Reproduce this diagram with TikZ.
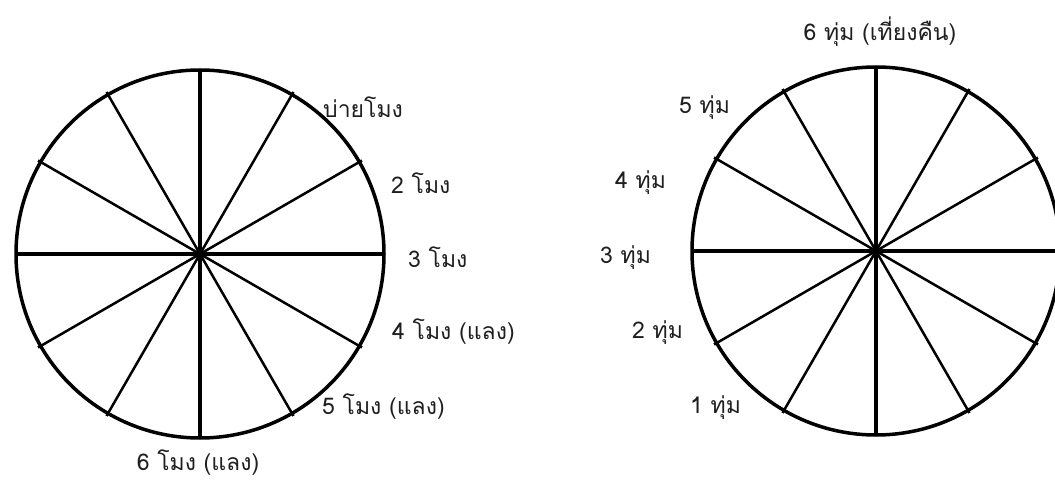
\documentclass[tikz,border=0pt]{standalone}
\usepackage{fontspec}
\newfontfamily\thaifont[Script=Thai]{Loma}
\begin{document}
\begin{tikzpicture}[x=1pt,y=-1pt,
  rim/.style={line width=3.5pt},
  axisline/.style={line width=3.2pt},
  spoke/.style={line width=2.5pt},
  lbl/.style={font=\thaifont\fontsize{23}{27}\selectfont, text=black!88, inner sep=0pt, anchor=west}]
\clip (0,0) rectangle (1055,481);
% left clock
\coordinate (L) at (200,254);
\draw[rim] (L) circle[radius=184];
\foreach \a in {0,90,180,270} \draw[axisline] (L) -- ++(\a:184);
\foreach \a in {30,60,120,150,210,240,300,330} \draw[spoke] (L) -- ++(\a:187);
% right clock
\coordinate (R) at (876,251);
\draw[rim] (R) circle[radius=184];
\foreach \a in {0,90,180,270} \draw[axisline] (R) -- ++(\a:184);
\foreach \a in {30,60,120,150,210,240,300,330} \draw[spoke] (R) -- ++(\a:187);
% left labels
\node[lbl] (l1) at (323,107) {บ่ายโมง};
\node[lbl] (l2) at (391,183) {2 โมง};
\node[lbl] (l3) at (408,257) {3 โมง};
\node[lbl] (l4) at (392,332) {4 โมง (แลง)};
\node[lbl] (l5) at (322,407) {5 โมง (แลง)};
\node[lbl,anchor=center] (l6) at (198,463) {6 โมง (แลง)};
% right labels
\node[lbl,anchor=center] (r6) at (880,32) {6 ทุ่ม (เที่ยงคืน)};
\node[lbl] (r5) at (679,108) {5 ทุ่ม};
\node[lbl] (r4) at (615,183) {4 ทุ่ม};
\node[lbl] (r3) at (600,258) {3 ทุ่ม};
\node[lbl] (r2) at (632,333) {2 ทุ่ม};
\node[lbl] (r1) at (690,408) {1 ทุ่ม};
\end{tikzpicture}
\end{document}
